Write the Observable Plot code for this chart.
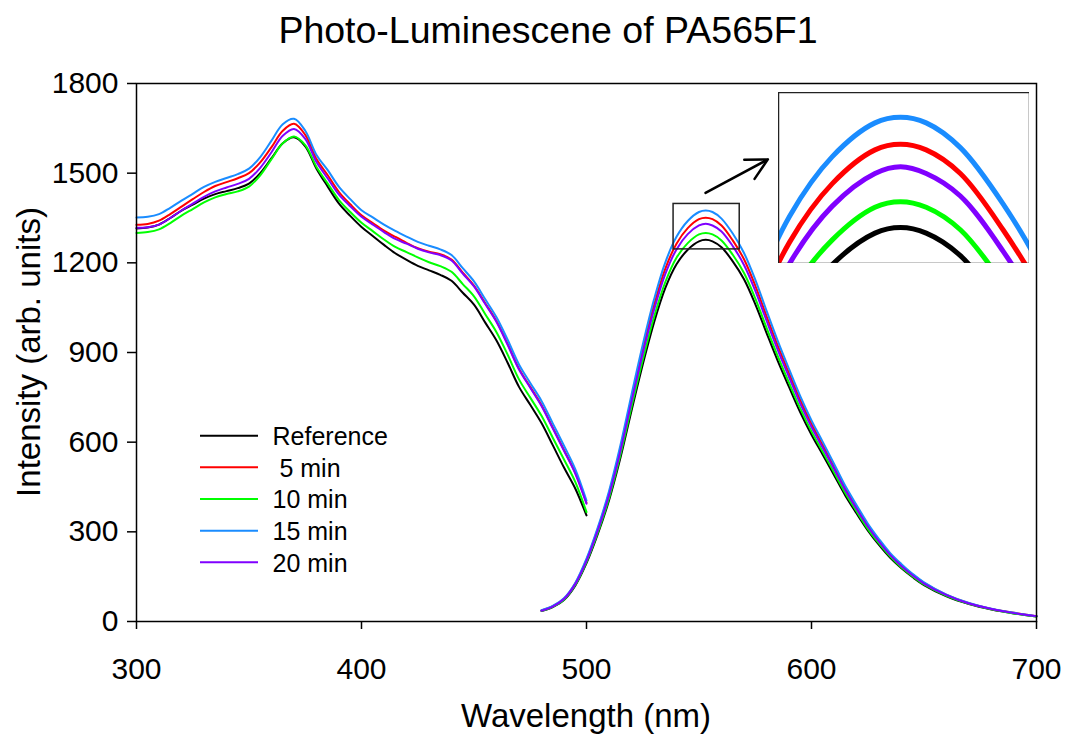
<!DOCTYPE html>
<html>
<head>
<meta charset="utf-8">
<script src="https://cdn.jsdelivr.net/npm/d3@7"></script>
<script src="https://cdn.jsdelivr.net/npm/@observablehq/plot@0.6"></script>
<style>
  html, body { margin: 0; padding: 0; background: white; }
  #chart { position: relative; width: 1069px; height: 737px; overflow: hidden; }
  #chart svg { position: absolute; }
</style>
</head>
<body>
<div id="chart"></div>
<script>
// ---------- data ----------
const seriesNames = ["Reference", " 5 min", "10 min", "15 min", "20 min"];
const seriesColors = ["#000000", "#ff0000", "#00ff00", "#1a8cff", "#8000ff"];

// excitation part (300-500 nm)
const excWl = [300,305,310,315,320,325,330,335,340,345,350,355,360,365,370,375,380,385,390,395,400,405,410,415,420,425,430,435,440,445,450,455,460,465,470,475,480,485,490,495,500];
const excRef = [1315,1318,1328,1350,1375,1395,1415,1430,1440,1450,1465,1500,1550,1600,1620,1590,1515,1455,1398,1357,1320,1290,1260,1232,1210,1190,1175,1160,1140,1100,1060,1000,940,865,785,725,664,590,515,445,355];
const exc5 = [1327,1330,1341,1363,1388,1413,1437,1457,1470,1483,1500,1536,1587,1642,1665,1628,1547,1493,1437,1396,1359,1333,1308,1287,1267,1249,1237,1229,1211,1167,1124,1065,1005,928,846,785,724,649,574,498,397];
const exc10 = [1300,1303,1312,1333,1358,1380,1402,1419,1430,1439,1455,1493,1547,1600,1623,1594,1521,1465,1410,1370,1334,1306,1278,1253,1236,1218,1202,1189,1170,1129,1088,1028,968,892,810,749,688,615,542,467,366];
const exc15 = [1352,1354,1363,1384,1408,1431,1454,1471,1484,1497,1515,1554,1609,1664,1682,1642,1561,1510,1454,1413,1376,1352,1328,1307,1288,1270,1257,1245,1226,1182,1138,1078,1018,942,860,798,738,663,588,510,405];
const exc20 = [1317,1319,1328,1350,1375,1398,1421,1439,1452,1464,1481,1518,1570,1625,1648,1615,1537,1482,1428,1389,1354,1328,1303,1280,1264,1247,1235,1226,1208,1164,1121,1062,1002,925,843,782,721,646,571,495,394];

// emission part (480-700 nm)
const emWl = [480,485,490,495,500,505,510,515,520,525,530,535,540,545,550,553,556,560,565,570,575,580,585,590,595,600,605,610,615,620,625,630,635,640,645,650,660,670,680,690,700];
const emRef = [35,48,72,120,195,292,405,545,705,860,1000,1115,1195,1244,1272,1277,1272,1252,1205,1145,1062,966,872,785,700,625,558,490,422,362,305,256,213,178,148,122,84,58,40,27,17];
const em5 = [37,51,76,127,206,309,428,577,746,910,1058,1180,1264,1316,1346,1351,1346,1325,1275,1212,1124,1022,923,831,741,661,590,518,446,383,323,271,225,188,157,129,89,61,42,29,18];
const em10 = [36,49,73,122,199,297,412,555,718,875,1018,1135,1217,1266,1295,1300,1295,1275,1227,1166,1081,983,888,799,713,636,568,499,430,369,310,261,217,181,151,124,86,59,41,27,17];
const em15 = [38,52,78,129,210,314,436,587,759,926,1077,1201,1287,1340,1370,1375,1370,1348,1298,1233,1144,1040,939,845,754,673,601,528,454,390,328,276,229,192,159,131,90,62,43,29,18];
const em20 = [36,50,75,125,203,304,422,568,735,896,1042,1162,1245,1296,1325,1331,1325,1305,1256,1193,1107,1007,909,818,729,651,581,511,440,377,318,267,222,185,154,127,88,60,42,28,18];

const xTicks = [300, 400, 500, 600, 700];
const yTicks = [0, 300, 600, 900, 1200, 1500, 1800];
const xDomain = [300, 700];
const yDomain = [0, 1800];

// zoomed region shown in the inset, and the pointer arrow (data units)
const zoomBox = {x1: 538.7, x2: 568.1, y1: 1245, y2: 1397};
const pointer = {x1: 552.9, y1: 1434, x2: 580.6, y2: 1546};

const titleText = "Photo-Luminescene of PA565F1";
const xLabel = "Wavelength (nm)";
const yLabel = "Intensity (arb. units)";

// ---------- build rows ----------
const excSeries = [excRef, exc5, exc10, exc15, exc20];
const emSeries = [emRef, em5, em10, em15, em20];
const rows = [];
const emRows = [];
seriesNames.forEach((name, i) => {
  excWl.forEach((w, j) => rows.push({wl: w, v: excSeries[i][j], series: name, key: name + "-exc"}));
});
seriesNames.forEach((name, i) => {
  emWl.forEach((w, j) => {
    const r = {wl: w, v: emSeries[i][j], series: name, key: name + "-em"};
    rows.push(r); emRows.push(r);
  });
});

const font = "'Liberation Sans', Arial, Helvetica, sans-serif";
const colorScale = {domain: seriesNames, range: seriesColors};

// ---------- main chart ----------
const main = Plot.plot({
  width: 1069, height: 737,
  marginLeft: 136, marginRight: 33, marginTop: 83, marginBottom: 116,
  style: {fontFamily: font, background: "white", color: "black", overflow: "visible"},
  x: {domain: xDomain},
  y: {domain: yDomain},
  color: colorScale,
  marks: [
    Plot.line(rows, {x: "wl", y: "v", z: "key", stroke: "series", strokeWidth: 2, curve: "catmull-rom"}),
    Plot.rect([zoomBox], {x1: "x1", x2: "x2", y1: "y1", y2: "y2", fill: "none", stroke: "#222", strokeWidth: 1.5}),
    Plot.arrow([pointer], {x1: "x1", y1: "y1", x2: "x2", y2: "y2", stroke: "black", strokeWidth: 2.5, headLength: 16, headAngle: 55}),
    Plot.frame({stroke: "black", strokeWidth: 1.5}),
    Plot.axisX({ticks: xTicks, tickSize: 8, tickPadding: 28, fontSize: 30, strokeWidth: 1.5, label: null, tickFormat: d => String(d)}),
    Plot.axisY({ticks: yTicks, tickSize: 9, tickPadding: 9, fontSize: 30, strokeWidth: 1.5, label: null, tickFormat: d => String(d)})
  ]
});
main.style.left = "0px"; main.style.top = "0px";
document.getElementById("chart").appendChild(main);

const svg = d3.select(main);
svg.append("text").attr("x", 548).attr("y", 43).attr("text-anchor", "middle")
  .attr("font-family", font).attr("font-size", 37.5).attr("fill", "black").text(titleText);
svg.append("text").attr("x", 586).attr("y", 727).attr("text-anchor", "middle")
  .attr("font-family", font).attr("font-size", 33).attr("fill", "black").text(xLabel);
svg.append("text").attr("transform", "translate(40,352) rotate(-90)").attr("text-anchor", "middle")
  .attr("font-family", font).attr("font-size", 33).attr("fill", "black").text(yLabel);

// legend
const lg = svg.append("g").attr("text-anchor", "start");
seriesNames.forEach((name, i) => {
  const y = 435.7 + i * 31.65;
  lg.append("line").attr("x1", 200).attr("x2", 258).attr("y1", y).attr("y2", y)
    .attr("stroke", seriesColors[i]).attr("stroke-width", 2);
  lg.append("text").attr("x", 272.5).attr("y", y + 9.3).attr("text-anchor", "start")
    .attr("font-family", font).attr("font-size", 25).attr("fill", "black")
    .style("white-space", "pre").attr("xml:space", "preserve").text(name);
});

// ---------- inset ----------
const inset = Plot.plot({
  width: 251, height: 171, margin: 0,
  style: {background: "white", overflow: "hidden"},
  x: {domain: [zoomBox.x1, zoomBox.x2], axis: null},
  y: {domain: [zoomBox.y1, zoomBox.y2], axis: null},
  color: colorScale,
  marks: [
    Plot.line(emRows, {x: "wl", y: "v", z: "key", stroke: "series", strokeWidth: 5, curve: "catmull-rom", clip: true}),
    Plot.frame({stroke: "#222", strokeWidth: 1.5})
  ]
});
inset.style.left = "778px"; inset.style.top = "92px";
document.getElementById("chart").appendChild(inset);
</script>
</body>
</html>
